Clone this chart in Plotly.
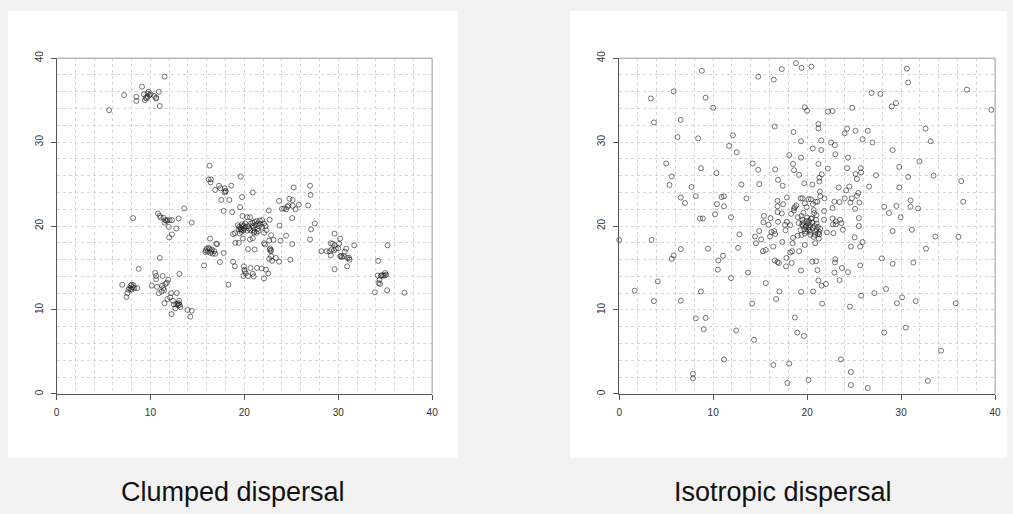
import plotly.graph_objects as go

# ---------------- data ----------------
clumped_pts = [
    # cluster top-left
    (5.6, 33.8), (7.2, 35.6), (8.5, 35.4), (8.5, 34.9), (9.1, 36.6), (9.3, 35.7), (9.4, 35.0),
    (9.6, 35.2), (9.7, 35.8), (9.8, 36.0), (9.9, 35.6), (9.7, 35.4), (10.0, 35.7), (10.4, 35.5),
    (10.6, 35.2), (10.6, 35.3), (10.9, 36.0), (11.0, 34.3), (11.5, 37.8), (9.5, 35.3),
    # cluster around (11.5, 20.6)
    (8.15, 20.95), (10.8, 21.5), (11.0, 21.2), (11.1, 21.0), (11.4, 21.0), (11.6, 20.7), (11.8, 20.7),
    (12.05, 20.7), (12.3, 20.7), (11.5, 20.4), (11.95, 19.9), (13.0, 20.9), (13.6, 22.1), (14.4, 20.4),
    (12.75, 19.7), (12.3, 19.0), (12.0, 18.65), (11.7, 20.6),
    # cluster around (8, 12.7)
    (7.0, 13.0), (7.45, 11.55), (7.55, 12.0), (7.75, 12.6), (7.9, 12.9), (8.0, 13.0), (7.9, 12.5),
    (8.1, 12.7), (8.2, 12.95), (8.3, 12.6), (8.6, 12.6), (8.75, 14.9), (7.65, 12.4), (8.0, 12.4),
    # cluster around (12, 11.5)
    (10.15, 12.9), (10.5, 14.4), (10.6, 14.05), (10.6, 13.65), (10.7, 12.75), (11.0, 16.2), (10.9, 12.0),
    (11.2, 12.2), (11.3, 14.05), (11.25, 12.9), (11.4, 12.6), (11.45, 12.35), (11.6, 13.1), (11.75, 13.25),
    (11.9, 13.6), (11.5, 10.8), (11.8, 11.3), (12.1, 11.5), (12.2, 12.0), (12.4, 11.1), (12.25, 9.5),
    (12.5, 10.65), (12.65, 10.2), (12.8, 12.0), (12.75, 10.65), (12.9, 10.75), (13.05, 11.1), (13.1, 14.3),
    (13.1, 10.6), (13.2, 10.35), (13.95, 10.0), (14.25, 9.2), (14.4, 9.9), (12.95, 10.55), (13.0, 10.8),
    # cluster around (16.3, 17)
    (15.7, 15.3), (15.85, 16.9), (15.9, 17.1), (16.0, 17.3), (16.1, 16.95), (16.3, 17.25), (16.35, 18.5),
    (16.4, 16.8), (16.55, 17.2), (16.65, 16.7), (16.8, 17.0), (16.9, 16.7), (17.0, 17.9), (17.1, 17.85),
    (17.4, 15.7), (17.8, 16.8), (18.3, 13.0), (16.2, 17.4), (16.5, 17.0),
    # cluster around (18, 24.2)
    (16.3, 27.2), (16.2, 25.55), (16.45, 25.55), (16.4, 25.2), (16.9, 24.3), (17.3, 24.8), (17.45, 24.5),
    (17.9, 24.5), (18.0, 24.2), (17.9, 24.0), (18.0, 24.1), (18.4, 23.1), (17.55, 23.1), (18.6, 24.8),
    (17.8, 21.8), (18.7, 21.65), (19.6, 25.9), (19.75, 23.45), (20.9, 24.0),
    # main cluster
    (19.55, 22.25), (19.8, 21.2), (20.3, 21.05), (20.6, 21.05), (19.3, 20.1), (19.45, 19.9), (19.6, 19.8),
    (19.8, 20.0), (19.95, 20.0), (20.15, 19.9), (19.9, 19.5), (19.7, 19.3), (19.5, 19.1), (19.0, 19.15),
    (18.8, 19.05), (19.05, 18.0), (19.4, 18.0), (19.85, 18.5), (20.3, 19.45), (20.5, 19.7), (20.65, 19.5),
    (20.85, 20.0), (20.95, 19.5), (21.1, 19.3), (21.3, 19.2), (21.4, 19.65), (21.45, 20.3), (21.55, 20.0),
    (21.7, 20.25), (21.9, 20.7), (21.65, 20.65), (22.1, 20.3), (22.25, 20.0), (22.1, 19.2), (22.35, 19.5),
    (22.6, 21.85), (22.7, 20.75), (22.85, 18.9), (22.65, 18.25), (22.1, 17.95), (22.2, 17.8), (23.1, 18.35),
    (23.75, 20.05), (23.85, 18.25), (24.45, 18.85), (19.6, 19.6), (19.75, 20.2), (20.0, 19.7), (20.1, 20.3),
    (19.4, 19.6), (20.9, 20.4), (21.0, 19.8), (21.2, 20.1), (21.1, 20.5), (20.7, 20.3), (21.5, 19.4),
    (21.3, 20.6), (20.4, 20.0), (19.7, 19.55), (21.0, 19.2), (21.9, 19.9),
    # upper-right arm
    (23.7, 23.0), (24.0, 22.05), (24.25, 22.1), (24.45, 22.0), (24.6, 22.3), (24.7, 22.45), (24.8, 23.25),
    (25.15, 23.1), (25.15, 22.4), (25.25, 24.6), (25.45, 22.0), (25.8, 22.55), (25.1, 20.95), (25.1, 17.85),
    (24.9, 16.0), (26.8, 22.45), (27.0, 24.8), (27.05, 23.7), (27.1, 19.6), (27.0, 18.4), (27.5, 20.3),
    # cluster around (22.7, 17)
    (22.7, 17.2), (22.75, 17.35), (22.85, 17.1), (22.65, 16.1), (22.85, 16.4), (22.95, 15.85), (23.35, 16.2),
    (23.7, 15.75), (22.8, 17.0),
    # cluster around (20, 14.7)
    (19.95, 15.2), (20.0, 14.8), (20.05, 14.6), (20.15, 14.35), (19.9, 14.05), (20.4, 14.05), (20.65, 15.0),
    (20.9, 14.3), (21.0, 14.0), (21.35, 15.0), (21.85, 14.95), (22.3, 14.8), (22.1, 13.75), (22.55, 14.35),
    (18.8, 15.75), (19.0, 15.2), (20.4, 17.25), (21.1, 17.2), (20.9, 18.55), (20.6, 18.4),
    # cluster around (29.5, 17.3)
    (28.2, 17.0), (28.75, 17.0), (29.2, 17.95), (29.4, 17.9), (29.6, 19.1), (29.3, 17.2), (29.1, 17.0),
    (29.2, 16.5), (29.6, 17.7), (29.75, 17.3), (29.55, 17.1), (30.0, 17.35), (30.1, 17.9), (30.2, 18.5),
    (29.6, 14.85), (30.2, 16.4), (30.4, 16.3), (30.6, 16.4), (30.7, 16.95), (30.85, 17.3), (30.95, 16.2),
    (31.15, 16.2), (31.2, 16.0), (30.95, 15.2), (31.7, 17.7), (30.3, 16.45),
    # cluster around (34.8, 14.2)
    (34.25, 15.85), (33.9, 12.1), (34.2, 14.1), (34.4, 13.6), (34.3, 13.2), (34.45, 13.1), (34.55, 14.05),
    (34.65, 14.15), (34.8, 14.1), (34.95, 14.1), (35.1, 14.2), (35.0, 14.4), (35.25, 17.7), (35.2, 12.35),
    (37.05, 12.05),
]

iso_pts = [
    (0.0, 18.35), (1.65, 12.3), (3.37, 35.2), (3.7, 32.35), (3.45, 18.35), (3.7, 11.05), (4.1, 13.4),
    (5.0, 27.45), (5.35, 24.9), (5.6, 25.9), (5.8, 36.05), (5.6, 16.1), (5.8, 16.5), (6.2, 30.6),
    (6.55, 32.65), (6.55, 23.4), (7.0, 22.75), (6.55, 17.25), (6.55, 11.1), (7.7, 24.65), (8.15, 23.55),
    (8.15, 9.0), (7.85, 2.4), (7.85, 1.85), (8.4, 30.45), (8.7, 26.9), (8.8, 38.5), (8.6, 20.9),
    (8.9, 20.9), (8.7, 12.2), (9.0, 7.7), (9.2, 35.3), (9.2, 9.05), (9.45, 17.3), (10.0, 34.1),
    (10.35, 26.3), (10.2, 21.4), (10.4, 22.6), (10.55, 15.9), (10.5, 14.8), (10.9, 23.45), (11.15, 23.55),
    (11.15, 22.35), (11.05, 16.45), (11.15, 4.1), (11.7, 29.55), (12.1, 30.8), (11.9, 21.05), (11.9, 13.8),
    (12.5, 28.8), (12.8, 19.0), (12.65, 17.4), (12.45, 7.55), (13.0, 24.95), (13.55, 23.3), (13.7, 14.45),
    (14.2, 27.45), (14.15, 10.75), (14.35, 6.45), (14.8, 37.8), (14.8, 26.7), (14.9, 25.0), (14.45, 18.75),
    (14.55, 17.95), (14.9, 19.4), (15.1, 18.4), (15.4, 21.2), (15.35, 20.45), (15.3, 17.0), (15.6, 17.15),
    (15.6, 13.2), (15.9, 20.15), (16.1, 20.95), (16.2, 19.3), (16.05, 18.75), (16.4, 17.55), (16.45, 37.45),
    (16.55, 31.85), (16.6, 26.75), (16.5, 19.4), (16.6, 19.05), (16.4, 3.45), (16.7, 11.3), (16.55, 15.9),
    (16.85, 15.7), (17.0, 15.6), (16.85, 23.0), (16.9, 25.5), (16.85, 22.35), (16.85, 21.65), (16.9, 20.5),
    (17.3, 38.7), (17.3, 21.5), (17.4, 24.8), (17.05, 12.2), (17.35, 18.1), (17.45, 22.6), (17.65, 20.15),
    (17.7, 19.5), (17.75, 15.2), (17.8, 16.2), (17.85, 20.5), (17.85, 23.4), (17.9, 1.3), (18.1, 3.6),
    (18.1, 28.45), (18.2, 20.1), (18.2, 16.85), (18.3, 21.45), (18.35, 15.6), (18.4, 17.0), (18.45, 17.95),
    (18.5, 18.6), (18.5, 27.4), (18.55, 31.2), (18.6, 26.65), (18.6, 22.1), (18.6, 21.85), (18.7, 9.1),
    (18.7, 22.25), (18.8, 39.4), (18.85, 22.45), (18.95, 7.3), (19.0, 18.85), (19.0, 21.05), (19.1, 20.35),
    (19.15, 26.1), (19.15, 17.0), (19.4, 38.85), (19.35, 30.1), (19.35, 28.15), (19.3, 23.3), (19.4, 21.2),
    (19.4, 18.95), (19.35, 14.7), (19.35, 12.15), (19.5, 23.3), (19.5, 20.75), (19.45, 20.2), (19.55, 20.05),
    (19.65, 6.9), (19.7, 25.1), (19.75, 22.7), (19.75, 34.15), (20.0, 33.75), (19.75, 17.75), (19.75, 19.1),
    (19.85, 19.9), (19.95, 20.6), (19.95, 22.25), (20.15, 23.2), (20.1, 20.3), (20.15, 1.65), (20.2, 19.9),
    (20.25, 19.5), (20.3, 20.1), (20.35, 18.95), (20.4, 23.2), (20.45, 39.0), (20.4, 20.9), (20.55, 20.4),
    (20.55, 24.95), (20.55, 15.75), (20.6, 29.25), (20.6, 22.6), (20.65, 12.2), (20.75, 21.55), (20.8, 20.0),
    (20.85, 18.95), (20.85, 17.95), (20.9, 22.9), (20.95, 15.8), (20.95, 20.75), (21.0, 19.6), (21.1, 14.75),
    (21.1, 22.9), (21.15, 19.1), (21.2, 13.5), (21.2, 32.15), (21.2, 31.65), (21.2, 27.4), (21.3, 19.3),
    (21.3, 25.3), (21.3, 25.75), (21.35, 24.1), (21.4, 23.55), (21.4, 19.65), (21.5, 30.2), (21.5, 29.05),
    (21.55, 26.15), (21.55, 12.9), (21.6, 10.75), (21.8, 21.8), (21.8, 20.75), (21.85, 23.3), (22.0, 13.1),
    (22.1, 19.25), (22.2, 26.85), (22.2, 33.65), (22.55, 29.95), (22.7, 20.9), (22.7, 33.7), (22.7, 22.15),
    (22.75, 20.2), (22.8, 19.15), (22.95, 29.65), (23.0, 28.55), (22.9, 22.9), (22.95, 15.65), (23.0, 16.05),
    (22.9, 14.45), (23.05, 20.55), (23.05, 20.2), (23.35, 24.6), (23.45, 22.85), (23.45, 13.55), (23.5, 20.75),
    (23.6, 4.1), (23.65, 20.35), (23.7, 15.0), (23.8, 19.55), (24.0, 31.05), (24.0, 23.3), (24.25, 31.6),
    (24.25, 26.9), (24.15, 24.25), (24.35, 28.15), (24.35, 14.5), (24.5, 24.7), (24.55, 10.4), (24.6, 22.8),
    (24.65, 17.55), (24.65, 2.6), (24.65, 1.05), (24.75, 23.3), (24.8, 34.1), (25.1, 22.05), (25.05, 18.65),
    (25.15, 26.2), (25.15, 31.35), (25.3, 25.6), (25.3, 23.6), (25.45, 23.95), (25.5, 20.95), (25.5, 20.0),
    (25.55, 22.8), (25.65, 15.3), (25.65, 17.55), (25.7, 26.9), (25.75, 11.7), (25.75, 26.4), (25.9, 30.35),
    (25.9, 18.1), (26.45, 31.35), (26.45, 0.7), (26.6, 24.7), (26.85, 35.85), (26.95, 29.95), (27.15, 12.0),
    (27.35, 26.05), (27.8, 35.75), (27.95, 16.15), (28.2, 22.3), (28.2, 7.3), (28.4, 12.5), (28.7, 21.55),
    (29.0, 34.25), (29.1, 29.05), (29.1, 19.4), (29.1, 15.5), (29.45, 34.65), (29.5, 22.4), (29.55, 10.8),
    (29.8, 24.6), (29.8, 27.05), (29.95, 21.05), (30.1, 11.5), (30.5, 7.9), (30.6, 38.75), (30.75, 37.1),
    (30.75, 25.85), (31.0, 23.05), (31.0, 22.3), (31.15, 19.55), (31.3, 15.65), (31.55, 11.05), (31.8, 22.1),
    (31.95, 27.7), (32.6, 31.6), (32.65, 17.3), (32.85, 1.55), (33.15, 30.1), (33.45, 26.0), (33.65, 18.75),
    (34.25, 5.15), (35.8, 10.8), (36.1, 18.7), (36.4, 25.35), (36.6, 22.9), (37.0, 36.25), (39.6, 33.85),
    # dense centre
    (19.6, 20.4), (19.9, 20.0), (20.1, 19.6), (20.3, 19.3), (20.6, 19.8), (19.7, 19.6), (19.9, 19.35),
    (19.3, 19.5), (20.7, 18.7), (21.0, 20.3), (21.15, 19.9), (21.3, 19.0), (21.25, 18.5), (20.9, 19.3),
    (20.2, 20.6), (20.0, 21.0), (20.5, 20.9), (19.6, 21.6), (20.7, 21.9), (21.0, 21.3),
]

clumped_x = [p[0] for p in clumped_pts]
clumped_y = [p[1] for p in clumped_pts]
iso_x = [p[0] for p in iso_pts]
iso_y = [p[1] for p in iso_pts]

titles = ["Clumped dispersal", "Isotropic dispersal"]
tick_vals = [0, 10, 20, 30, 40]

# ---------------- figure ----------------
W, H = 1013, 514
fig = go.Figure()

marker = dict(symbol="circle-open", size=5, color="rgba(30,30,30,0.75)", line=dict(width=0.8))
fig.add_trace(go.Scatter(x=clumped_x, y=clumped_y, mode="markers", marker=marker,
                         xaxis="x", yaxis="y", cliponaxis=False, showlegend=False))
fig.add_trace(go.Scatter(x=iso_x, y=iso_y, mode="markers", marker=marker,
                         xaxis="x2", yaxis="y2", cliponaxis=False, showlegend=False))

ydom = [1 - 393 / H, 1 - 52 / H]
xdom1 = [54 / W, 433 / W]
xdom2 = [621.7 / W, 1001 / W]

GRID = "#d6d6d6"

def common():
    return dict(range=[0, 40], tickvals=tick_vals,
                showgrid=True, gridcolor=GRID, griddash="dot", gridwidth=1,
                minor=dict(dtick=2, tick0=0, showgrid=True, gridcolor=GRID, griddash="dot", gridwidth=1),
                showline=True, linecolor="#555", linewidth=1, ticks="outside", ticklen=5,
                tickcolor="#555", ticklabelstandoff=4,
                tickfont=dict(family="Liberation Sans, Arial", size=10, color="#333"),
                zeroline=False, fixedrange=True)

def xax(domain, anchor):
    d = common()
    d.update(domain=domain, anchor=anchor)
    return d

def yax(anchor):
    d = common()
    d.update(domain=ydom, anchor=anchor, tickangle=-90)
    return d

shapes = [
    dict(type="rect", xref="paper", yref="paper", x0=5 / W, x1=459 / W, y0=1 - 458 / H, y1=1 - 4 / H,
         fillcolor="white", line=dict(width=0), layer="below"),
    dict(type="rect", xref="paper", yref="paper", x0=572 / W, x1=1.0, y0=1 - 458 / H, y1=1 - 4 / H,
         fillcolor="white", line=dict(width=0), layer="below"),
]
for xr, yr in (("x", "y"), ("x2", "y2")):
    shapes.append(dict(type="path", xref=xr + " domain", yref=yr + " domain",
                       path="M 0,1 L 1,1 L 1,0", line=dict(color="#999", width=1), layer="above"))

annotations = []
for t, cx in zip(titles, [232 / W, 787 / W]):
    annotations.append(dict(text=t, x=cx, y=1 - 493 / H, xref="paper", yref="paper",
                            xanchor="center", yanchor="middle", showarrow=False,
                            font=dict(family="Liberation Sans, Arial", size=27, color="#111")))

fig.update_layout(
    width=W, height=H, margin=dict(l=0, r=0, t=0, b=0),
    paper_bgcolor="#f2f2f2", plot_bgcolor="white",
    xaxis=xax(xdom1, "y"), yaxis=yax("x"),
    xaxis2=xax(xdom2, "y2"), yaxis2=yax("x2"),
    shapes=shapes, annotations=annotations, showlegend=False,
)

fig.write_html("out.html", config={"displayModeBar": False})
